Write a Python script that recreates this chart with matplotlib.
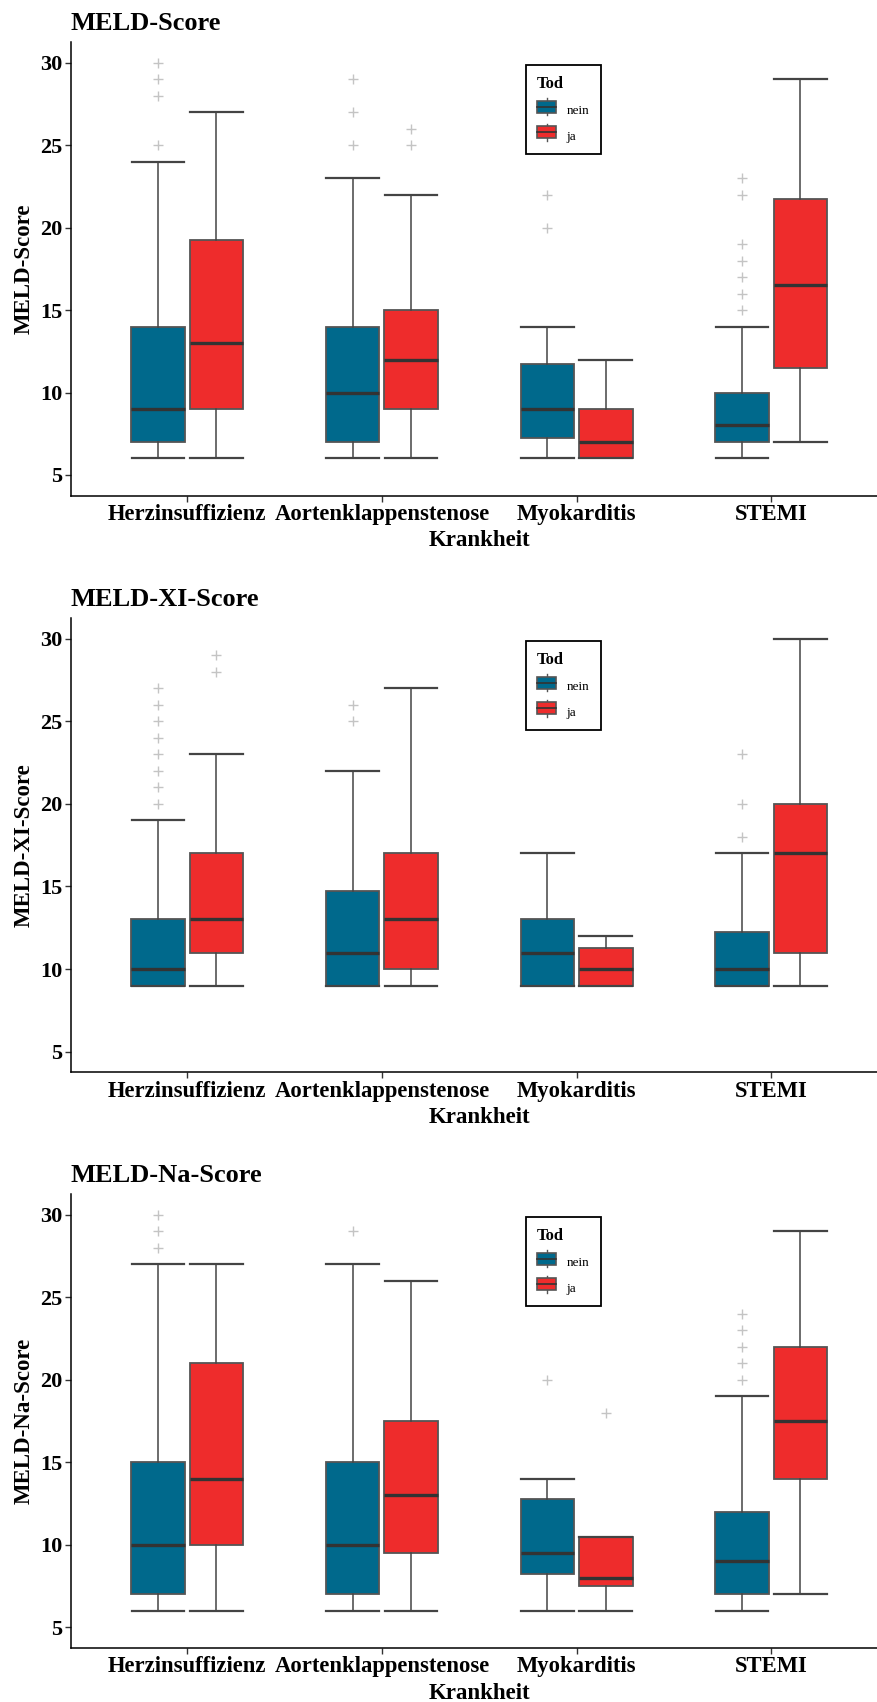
import matplotlib
matplotlib.use("Agg")
import matplotlib.pyplot as plt
from matplotlib.patches import Patch, Rectangle
from matplotlib.lines import Line2D

plt.rcParams['font.family'] = ['Liberation Serif', 'DejaVu Serif']

# Daten (whislo, q1, median, q3, whishi) je Krankheit
krankheiten = ["Herzinsuffizienz", "Aortenklappenstenose", "Myokarditis", "STEMI"]

meld_nein = [(6, 7, 9, 14, 24), (6, 7, 10, 14, 23), (6, 7.25, 9, 11.75, 14), (6, 7, 8, 10, 14)]
meld_nein_out = [[25, 28, 29, 30], [25, 27, 29], [20, 22], [15, 16, 17, 18, 19, 22, 23]]
meld_ja = [(6, 9, 13, 19.25, 27), (6, 9, 12, 15, 22), (6, 6, 7, 9, 12), (7, 11.5, 16.5, 21.75, 29)]
meld_ja_out = [[], [25, 26], [], []]

xi_nein = [(9, 9, 10, 13, 19), (9, 9, 11, 14.75, 22), (9, 9, 11, 13, 17), (9, 9, 10, 12.25, 17)]
xi_nein_out = [[20, 21, 22, 23, 24, 25, 26, 27], [25, 26], [], [18, 20, 23]]
xi_ja = [(9, 11, 13, 17, 23), (9, 10, 13, 17, 27), (9, 9, 10, 11.25, 12), (9, 11, 17, 20, 30)]
xi_ja_out = [[28, 29], [], [], []]

na_nein = [(6, 7, 10, 15, 27), (6, 7, 10, 15, 27), (6, 8.25, 9.5, 12.75, 14), (6, 7, 9, 12, 19)]
na_nein_out = [[28, 29, 30], [29], [20], [20, 21, 22, 23, 24]]
na_ja = [(6, 10, 14, 21, 27), (6, 9.5, 13, 17.5, 26), (6, 7.5, 8, 10.5, 10.5), (7, 14, 17.5, 22, 29)]
na_ja_out = [[], [], [18], []]

BLAU = "#00698C"
ROT = "#EE2C2C"


def make_stats(five, outs):
    return [dict(whislo=a, q1=b, med=c, q3=d, whishi=e, fliers=f)
            for (a, b, c, d, e), f in zip(five, outs)]


class BoxHandler:
    # kleine Boxplot-Glyphe fuer die Legende
    def legend_artist(self, legend, orig_handle, fontsize, handlebox):
        x0, y0 = handlebox.xdescent, handlebox.ydescent
        w, h = handlebox.width, handlebox.height
        tr = handlebox.get_transform()
        stub = h * 0.2
        l1 = Line2D([x0 + w / 2, x0 + w / 2], [y0 - stub, y0 + h + stub], color="#555555", lw=1.0, transform=tr)
        rect = Rectangle((x0, y0), w, h, facecolor=orig_handle.get_facecolor(),
                         edgecolor="#555555", lw=1.2, transform=tr)
        l2 = Line2D([x0, x0 + w], [y0 + h / 2, y0 + h / 2], color="#333333", lw=1.2, transform=tr)
        handlebox.add_artist(l1)
        handlebox.add_artist(rect)
        handlebox.add_artist(l2)
        return rect


def draw_panel(ax, title, ylabel, nein, nein_out, ja, ja_out):
    pos = list(range(1, len(krankheiten) + 1))
    for five, outs, off, col in [(nein, nein_out, -0.15, BLAU), (ja, ja_out, 0.15, ROT)]:
        res = ax.bxp(make_stats(five, outs), positions=[p + off for p in pos],
                     widths=0.275, capwidths=0.27, patch_artist=True, manage_ticks=False,
                     boxprops=dict(edgecolor="#555555", linewidth=1.3),
                     whiskerprops=dict(color="#444444", linewidth=1.1),
                     capprops=dict(color="#444444", linewidth=1.6),
                     medianprops=dict(color="#333333", linewidth=2.4),
                     flierprops=dict(marker="+", markeredgecolor="#C4C4C4", markersize=7,
                                     markeredgewidth=1.0, linestyle="none"))
        for b in res["boxes"]:
            b.set_facecolor(col)

    ax.set_xlim(0.4, 4.6)
    ax.set_ylim(3.75, 31.25)
    ax.set_xticks(pos)
    ax.set_xticklabels(krankheiten, fontsize=16.3, fontweight="bold")
    ax.set_yticks([5, 10, 15, 20, 25, 30])
    ax.set_yticklabels(["5", "10", "15", "20", "25", "30"], fontsize=16, fontweight="bold")
    ax.tick_params(length=4, width=1, color="#333333", pad=2)
    for s in ["top", "right"]:
        ax.spines[s].set_visible(False)
    for s in ["left", "bottom"]:
        ax.spines[s].set_linewidth(1.1)
    ax.set_xlabel("Krankheit", fontsize=16.5, fontweight="bold", labelpad=4)
    ax.set_ylabel(ylabel, fontsize=16.5, fontweight="bold", labelpad=4)
    ax.set_title(title, loc="left", fontsize=19, fontweight="bold", pad=9)

    handles = [Patch(facecolor=BLAU, label="nein"), Patch(facecolor=ROT, label="ja")]
    leg = ax.legend(handles=handles, title="Tod", loc="upper left", bbox_to_anchor=(0.557, 0.95),
                    borderaxespad=0, fontsize=9.5, title_fontproperties=dict(size=12, weight="bold"),
                    handler_map={Patch: BoxHandler()}, handlelength=1.45, handleheight=1.05,
                    handletextpad=0.8, labelspacing=0.9, borderpad=0.85, alignment="left",
                    fancybox=False, framealpha=1, edgecolor="black")
    leg.get_frame().set_linewidth(1.3)


fig = plt.figure(figsize=(8.77, 17.02), dpi=100)
W, H = 877.0, 1702.0
left, width = 70.5 / W, 817.5 / W
panels = [(42, 495.6), (618, 1072.3), (1194, 1648)]

data = [
    ("MELD-Score", "MELD-Score", meld_nein, meld_nein_out, meld_ja, meld_ja_out),
    ("MELD-XI-Score", "MELD-XI-Score", xi_nein, xi_nein_out, xi_ja, xi_ja_out),
    ("MELD-Na-Score", "MELD-Na-Score", na_nein, na_nein_out, na_ja, na_ja_out),
]

for (top, bot), d in zip(panels, data):
    ax = fig.add_axes([left, 1 - bot / H, width, (bot - top) / H])
    draw_panel(ax, *d)

fig.savefig("out.png", dpi=100)
